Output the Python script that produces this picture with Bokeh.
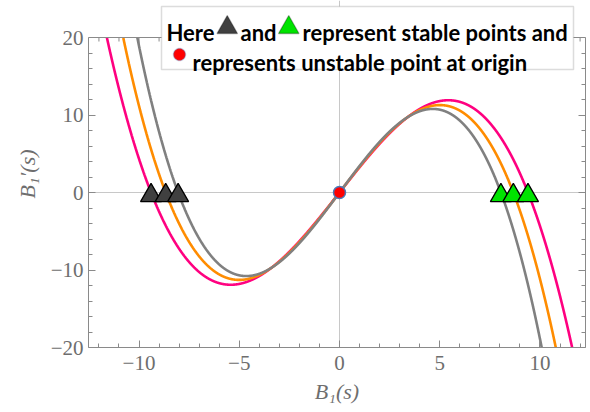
import numpy as np
from bokeh.plotting import figure
from bokeh.models import (LinearAxis, FixedTicker, Span, Label, PolyAnnotation, Range1d)
from bokeh.embed import file_html
from bokeh.resources import INLINE

# ---- data ----
# each curve: B1'(s) = slope * B1 * (1 - B1^2 / root^2)
curve_roots = [9.40, 8.67, 8.05]
curve_slopes = [3.29, 3.38, 3.48]
curve_colors = ["#ff0080", "#ff8c00", "#808080"]

stable_left_x = [-9.40, -8.67, -8.05]
stable_right_x = [8.05, 8.67, 9.40]
stable_y = [0.0, 0.0, 0.0]
unstable_x = [0.0]
unstable_y = [0.0]

x_ticks = [-10, -5, 0, 5, 10]
x_tick_labels = ["\u221210", "\u22125", "0", "5", "10"]
y_ticks = [-20, -10, 0, 10, 20]
y_tick_labels = ["\u221220", "\u221210", "0", "10", "20"]

legend_line1 = ["Here", "and", "represent stable points and"]
legend_line2 = "represents unstable point at origin"

X_MIN, X_MAX = -12.52, 12.27
Y_MIN, Y_MAX = -20, 20

W, H = 590, 412
FL, FR, FT, FB = 88, 585, 37, 347   # plot-frame edges (canvas px) of the reference
PPU_Y = (FB - FT) / (Y_MAX - Y_MIN)
# the drawing area is extended to the top of the canvas so the legend box can sit above the frame
Y_TOP = Y_MAX + FT / PPU_Y

p = figure(width=W, height=H, x_range=Range1d(X_MIN, X_MAX), y_range=Range1d(Y_MIN, Y_TOP),
           output_backend="svg", toolbar_location=None,
           min_border_left=FL, min_border_right=W - FR, min_border_top=0, min_border_bottom=H - FB,
           background_fill_color="white", border_fill_color="white")
p.grid.visible = False
p.outline_line_color = None

p.add_layout(LinearAxis(), "right")

axis_col = "#8a8a8a"
lab_col = "#6e6e6e"
x_minor = [v for v in range(-12, 13) if v not in x_ticks]
y_minor = [v for v in range(-20, 21, 2) if v not in y_ticks]

p.xaxis.ticker = FixedTicker(ticks=x_ticks, minor_ticks=x_minor)
p.xaxis.major_label_overrides = {t: l for t, l in zip(x_ticks, x_tick_labels)}
for ax in p.yaxis:
    ax.ticker = FixedTicker(ticks=y_ticks, minor_ticks=y_minor)
    ax.major_label_overrides = {t: l for t, l in zip(y_ticks, y_tick_labels)}
    ax.bounds = (Y_MIN, Y_MAX)

for ax in list(p.xaxis) + list(p.yaxis):
    ax.axis_line_color = axis_col
    ax.axis_line_width = 1
    ax.major_tick_line_color = axis_col
    ax.minor_tick_line_color = axis_col
    ax.major_tick_in = 7
    ax.major_tick_out = 0
    ax.minor_tick_in = 4
    ax.minor_tick_out = 0
    ax.major_label_text_font = "Liberation Serif"
    ax.major_label_text_font_size = "21px"
    ax.major_label_text_color = lab_col
    ax.axis_label_text_font = "Liberation Serif"
    ax.axis_label_text_font_size = "22px"
    ax.axis_label_text_font_style = "italic"
    ax.axis_label_text_color = lab_col

rax = p.right[0]
rax.major_label_text_font_size = "1px"
rax.major_label_text_color = None
rax.major_label_standoff = 0
rax.axis_label = None

p.below[0].axis_label = "B\u2081(s)"
p.below[0].major_label_standoff = 8
p.below[0].axis_label_standoff = 6
p.left[0].axis_label = "B\u2081\u2032(s)"
p.left[0].major_label_standoff = 5
p.left[0].axis_label_standoff = 8

# top edge of the frame with its inward ticks
p.add_layout(Span(location=Y_MAX, dimension="width", line_color=axis_col, line_width=1))
top_major = np.array(x_ticks, dtype=float)
top_minor = np.array(x_minor, dtype=float)
p.segment(top_major, Y_MAX, top_major, Y_MAX - 7 / PPU_Y, line_color=axis_col, line_width=1)
p.segment(top_minor, Y_MAX, top_minor, Y_MAX - 4 / PPU_Y, line_color=axis_col, line_width=1)

# zero axes lines (below the curves and markers)
p.add_layout(Span(location=0, dimension="width", line_color="#c8c8c8", line_width=1, level="underlay"))
p.add_layout(Span(location=0, dimension="height", line_color="#c8c8c8", line_width=1, level="underlay"))

xs = np.linspace(X_MIN, X_MAX, 5000)
for r, a, c in zip(curve_roots, curve_slopes, curve_colors):
    ys = a * xs * (1 - xs ** 2 / r ** 2)
    ys = np.where(np.abs(ys) <= Y_MAX, ys, np.nan)
    p.line(xs, ys, line_color=c, line_width=2.6)

# nudge so the triangle's bounding box (not its centroid) is centred on the point
tri_size = 21
tri_dy = (tri_size * np.sqrt(3) / 2 / 6) / PPU_Y
for xv, yv in zip(stable_left_x, stable_y):
    p.scatter([xv], [yv - tri_dy], marker="triangle", size=tri_size,
              fill_color="#404040", line_color="black", line_width=1.3)
for xv, yv in zip(stable_right_x, stable_y):
    p.scatter([xv], [yv - tri_dy], marker="triangle", size=tri_size,
              fill_color="#00e400", line_color="black", line_width=1.3)
p.scatter(unstable_x, unstable_y, marker="circle", size=12, fill_color="#ff0000",
          line_color="#4a78b8", line_width=1.5)

# ---- legend box (canvas px -> screen units relative to the frame's bottom-left) ----
def sx(cx):
    return float(cx - FL)

def sy(cy):
    return float(FB - cy)

box_l, box_r, box_t, box_b = 161, 573, 6, 69
p.add_layout(PolyAnnotation(xs=[sx(box_l), sx(box_r), sx(box_r), sx(box_l)],
                            ys=[sy(box_t), sy(box_t), sy(box_b), sy(box_b)],
                            xs_units="screen", ys_units="screen",
                            fill_color="white", fill_alpha=1.0,
                            line_color="#8a8a8a", line_width=1.5, level="overlay"))

def tri(l, r, top, bot, col):
    return PolyAnnotation(xs=[sx(l), sx(r), sx((l + r) / 2)], ys=[sy(bot), sy(bot), sy(top)],
                          xs_units="screen", ys_units="screen", fill_color=col, fill_alpha=1.0,
                          line_color="black", line_width=1.3, level="overlay")

p.add_layout(tri(216.5, 237, 15, 33, "#404040"))
p.add_layout(tri(278, 298.5, 15, 33, "#00e400"))
ang = np.linspace(0, 2 * np.pi, 40, endpoint=False)
p.add_layout(PolyAnnotation(xs=[sx(v) for v in 179 + 6 * np.cos(ang)],
                            ys=[sy(v) for v in 54 + 6 * np.sin(ang)],
                            xs_units="screen", ys_units="screen", fill_color="#ff0000", fill_alpha=1.0,
                            line_color="#4a78b8", line_width=1.5, level="overlay"))

def lab(cx, cy, txt):
    return Label(x=sx(cx), y=sy(cy), x_units="screen", y_units="screen", text=txt,
                 text_font="Lato", text_font_style="bold", text_font_size="22px",
                 text_color="black", text_align="left", text_baseline="alphabetic", level="overlay")

p.add_layout(lab(166, 32, legend_line1[0]))
p.add_layout(lab(240, 32, legend_line1[1]))
p.add_layout(lab(302, 32, legend_line1[2]))
p.add_layout(lab(192, 62, legend_line2))

open("out.html", "w").write(file_html(p, INLINE))
